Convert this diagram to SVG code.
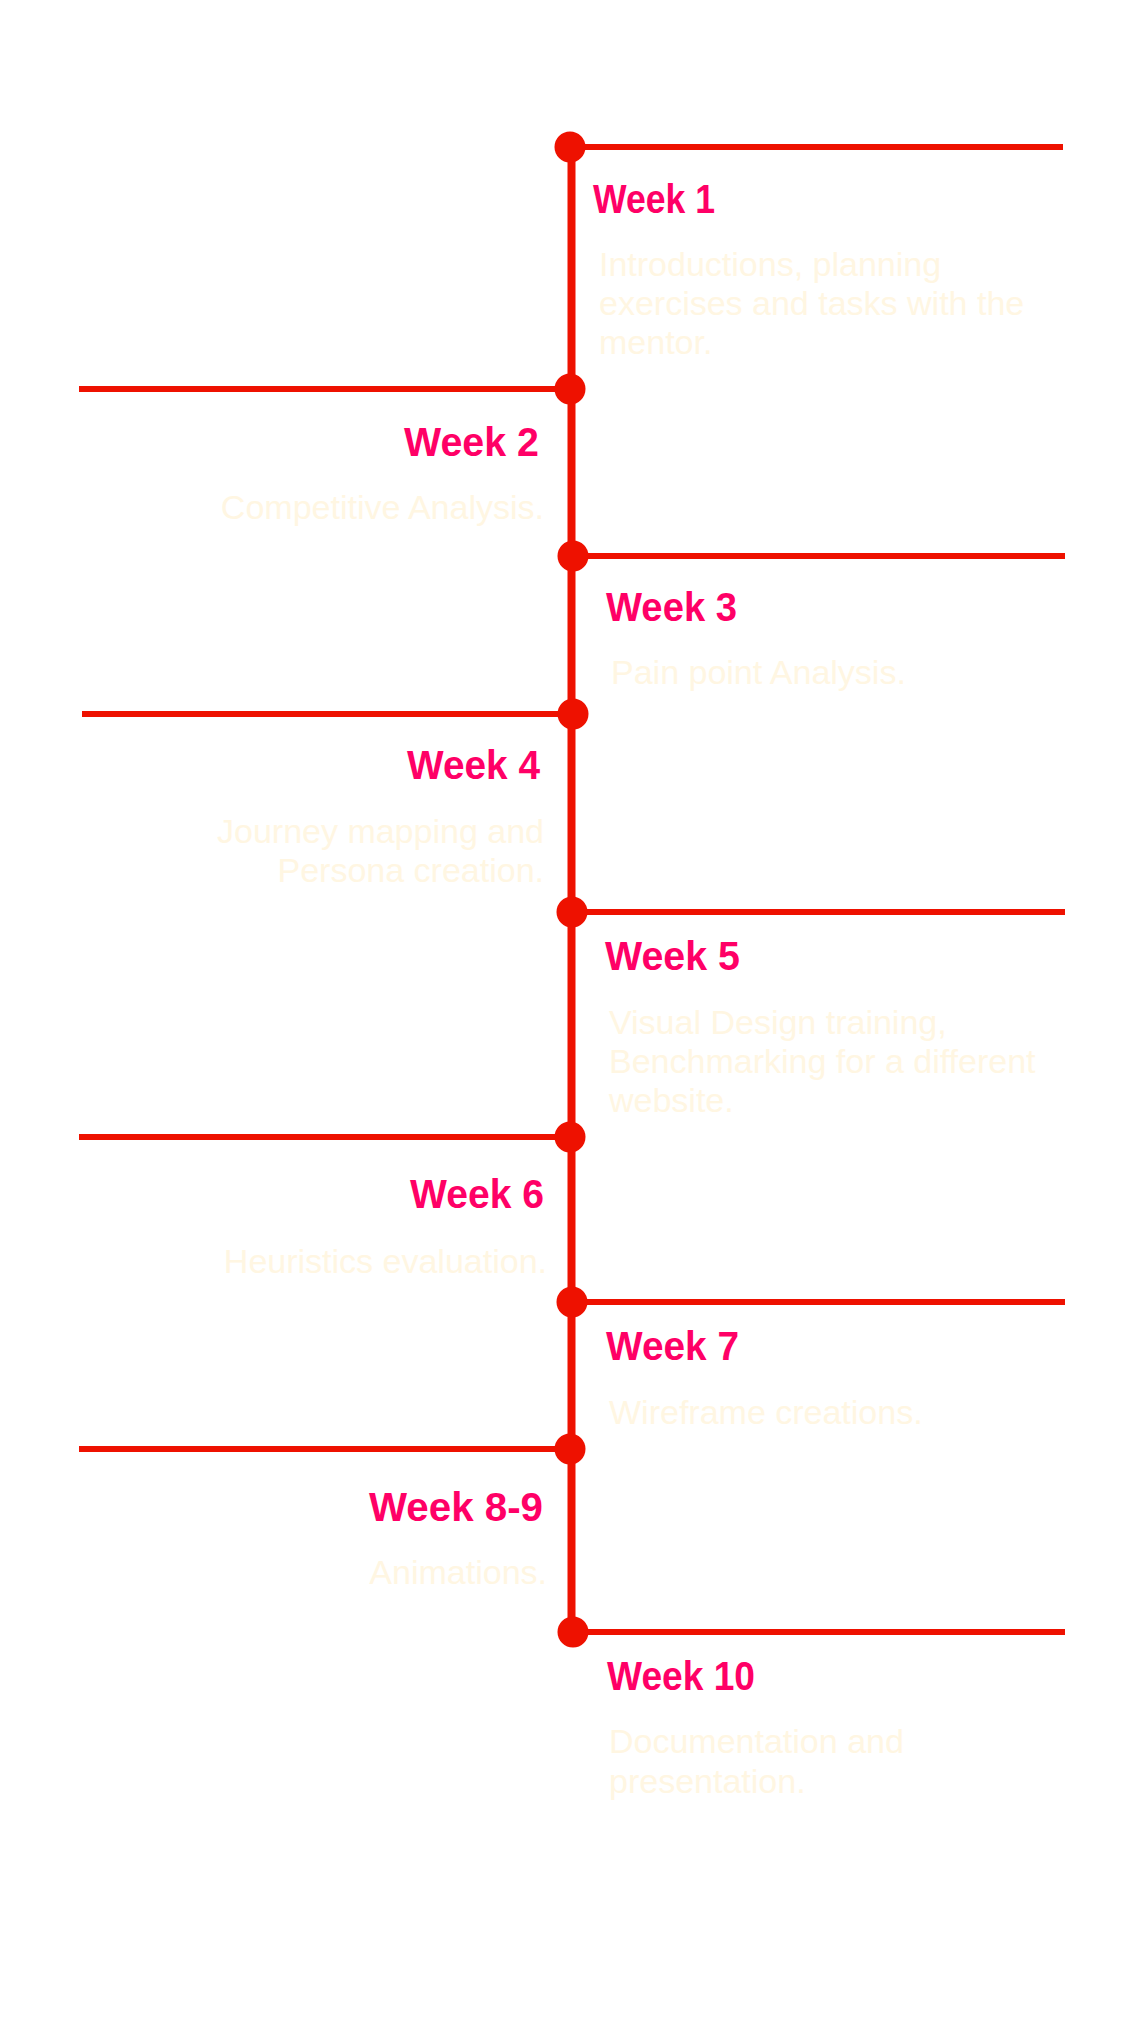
<svg xmlns="http://www.w3.org/2000/svg" width="1143" height="2019" viewBox="0 0 1143 2019">
<style>
.ln{stroke:#EE1100;stroke-width:6;fill:none}
.spine{stroke:#EE1100;stroke-width:8;fill:none}
.dot{fill:#EE1100}
.lbl{font-family:"Liberation Sans",Arial,sans-serif;font-weight:bold;font-size:41px;fill:#FF0066}
.dsc{font-family:"Liberation Sans",Arial,sans-serif;font-size:34px;fill:#FFF6E2}
.r{text-anchor:end}
</style>
<rect width="1143" height="2019" fill="#FFFFFF"/>
<g id="connectors">
<line class="spine" x1="571.5" y1="147" x2="571.5" y2="1632"/>
<line class="ln" x1="570" y1="147" x2="1063" y2="147"/>
<line class="ln" x1="79" y1="389" x2="570" y2="389"/>
<line class="ln" x1="573" y1="556" x2="1065" y2="556"/>
<line class="ln" x1="82" y1="714" x2="573" y2="714"/>
<line class="ln" x1="572" y1="912" x2="1065" y2="912"/>
<line class="ln" x1="79" y1="1137" x2="570" y2="1137"/>
<line class="ln" x1="572" y1="1302" x2="1065" y2="1302"/>
<line class="ln" x1="79" y1="1449" x2="570" y2="1449"/>
<line class="ln" x1="573" y1="1632" x2="1065" y2="1632"/>
</g>
<g id="week1">
<circle class="dot" cx="570" cy="147" r="15.5"/>
<text class="lbl" x="593" y="213" textLength="122" lengthAdjust="spacingAndGlyphs">Week 1</text>
<text class="dsc" x="599" y="276">Introductions, planning</text>
<text class="dsc" x="599" y="315">exercises and tasks with the</text>
<text class="dsc" x="599" y="354">mentor.</text>
</g>
<g id="week2">
<circle class="dot" cx="570" cy="389" r="15.5"/>
<text class="lbl r" x="539" y="456" textLength="135" lengthAdjust="spacingAndGlyphs">Week 2</text>
<text class="dsc r" x="544" y="519">Competitive Analysis.</text>
</g>
<g id="week3">
<circle class="dot" cx="573" cy="556" r="15.5"/>
<text class="lbl" x="606" y="621" textLength="131" lengthAdjust="spacingAndGlyphs">Week 3</text>
<text class="dsc" x="611" y="684">Pain point Analysis.</text>
</g>
<g id="week4">
<circle class="dot" cx="573" cy="714" r="15.5"/>
<text class="lbl r" x="540" y="779" textLength="133" lengthAdjust="spacingAndGlyphs">Week 4</text>
<text class="dsc r" x="544" y="843">Journey mapping and</text>
<text class="dsc r" x="544" y="882">Persona creation.</text>
</g>
<g id="week5">
<circle class="dot" cx="572" cy="912" r="15.5"/>
<text class="lbl" x="605" y="970" textLength="135" lengthAdjust="spacingAndGlyphs">Week 5</text>
<text class="dsc" x="609" y="1034">Visual Design training,</text>
<text class="dsc" x="609" y="1073">Benchmarking for a different</text>
<text class="dsc" x="609" y="1112">website.</text>
</g>
<g id="week6">
<circle class="dot" cx="570" cy="1137" r="15.5"/>
<text class="lbl r" x="544" y="1208" textLength="134" lengthAdjust="spacingAndGlyphs">Week 6</text>
<text class="dsc r" x="547" y="1273">Heuristics evaluation.</text>
</g>
<g id="week7">
<circle class="dot" cx="572" cy="1302" r="15.5"/>
<text class="lbl" x="606" y="1360" textLength="133" lengthAdjust="spacingAndGlyphs">Week 7</text>
<text class="dsc" x="609" y="1424">Wireframe creations.</text>
</g>
<g id="week8-9">
<circle class="dot" cx="570" cy="1449" r="15.5"/>
<text class="lbl r" x="543" y="1521" textLength="174" lengthAdjust="spacingAndGlyphs">Week 8-9</text>
<text class="dsc r" x="547" y="1584">Animations.</text>
</g>
<g id="week10">
<circle class="dot" cx="573" cy="1632" r="15.5"/>
<text class="lbl" x="607" y="1690" textLength="148" lengthAdjust="spacingAndGlyphs">Week 10</text>
<text class="dsc" x="609" y="1753">Documentation and</text>
<text class="dsc" x="609" y="1793">presentation.</text>
</g>
</svg>
